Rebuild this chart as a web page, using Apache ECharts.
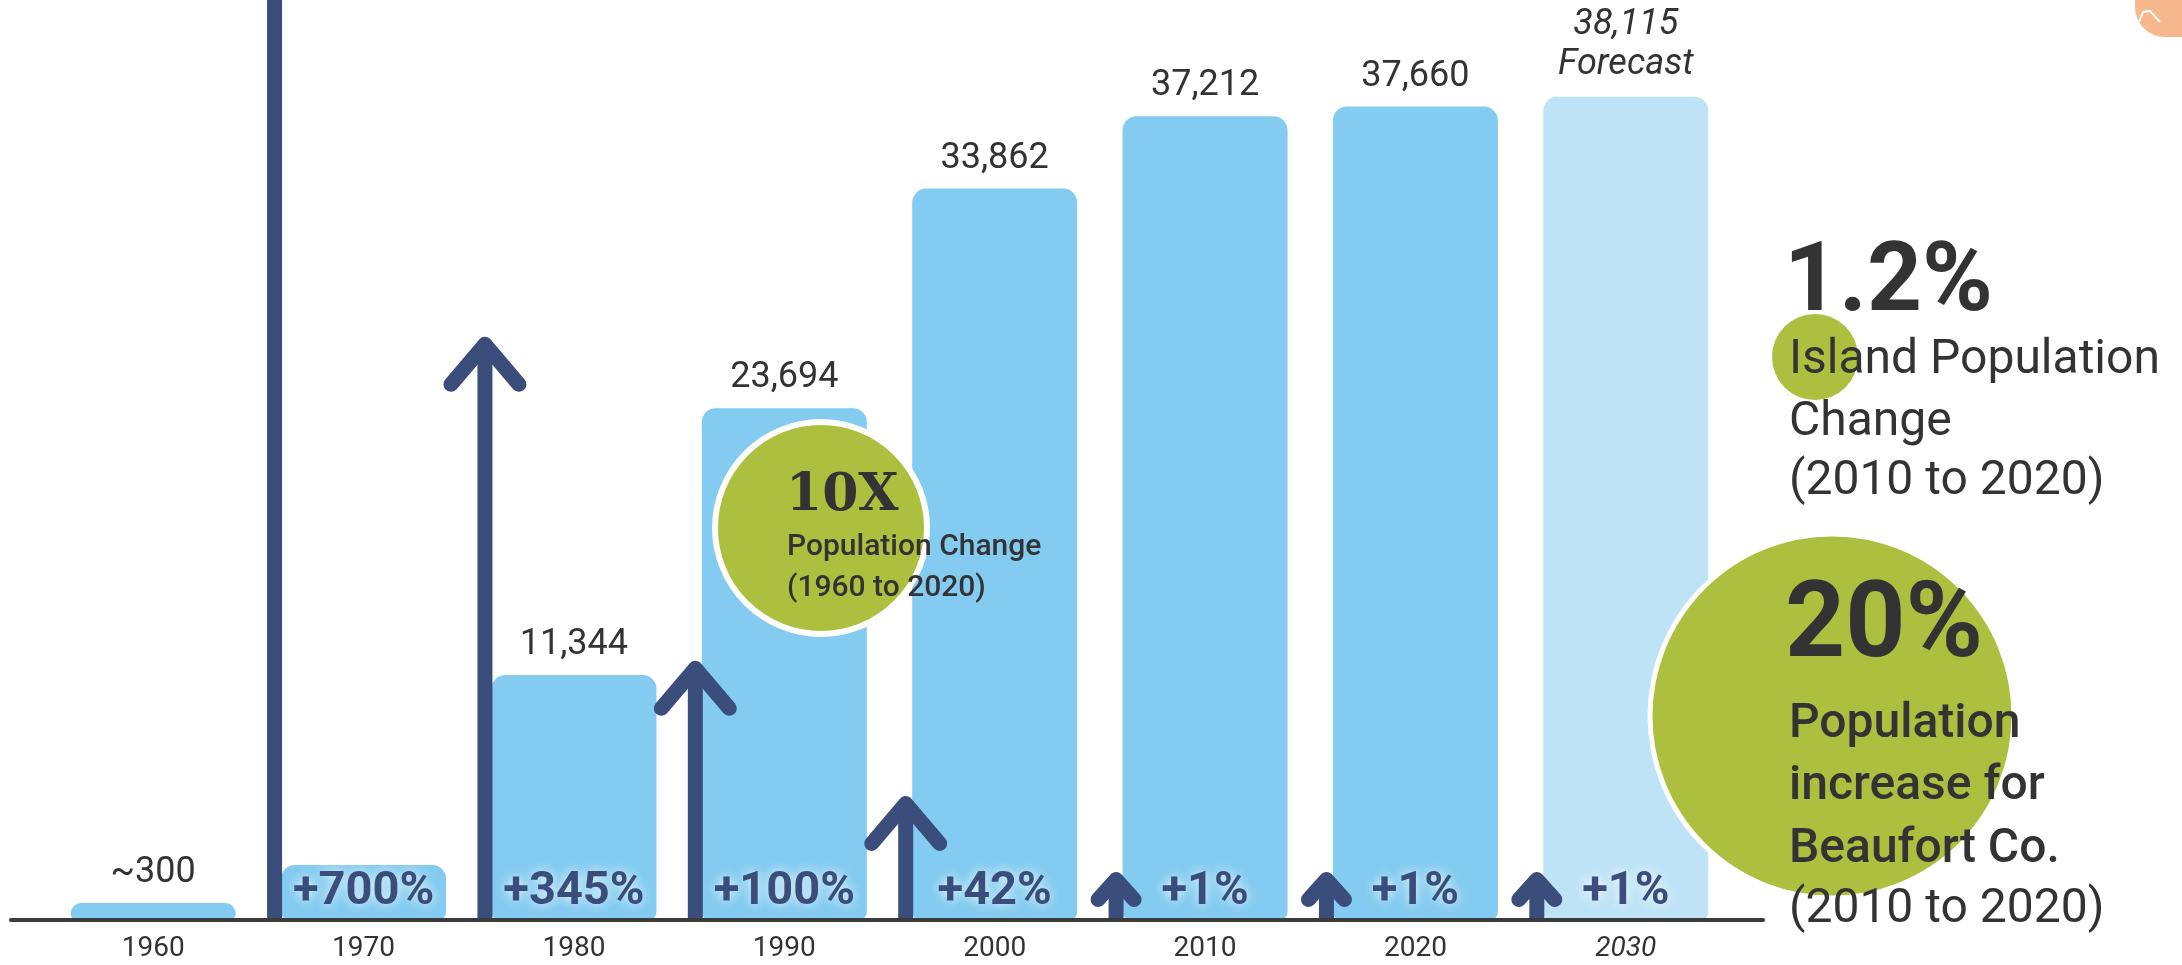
<!DOCTYPE html>
<html><head><meta charset="utf-8">
<script src="https://cdn.jsdelivr.net/npm/echarts@6/dist/echarts.min.js"></script>
<style>html,body{margin:0;padding:0;background:#fff}#c{width:2182px;height:965px}</style>
</head><body><div id="c"></div><script>
// ---- data ----
const years = ['1960', '1970', '1980', '1990', '2000', '2010', '2020', '2030'];
const population = [300, 2549, 11344, 23694, 33862, 37212, 37660, 38115];
const valueLabels = ['~300', '', '11,344', '23,694', '33,862', '37,212', '37,660', '38,115'];
const isForecast = [false, false, false, false, false, false, false, true];
const changeLabels = ['', '+700%', '+345%', '+100%', '+42%', '+1%', '+1%', '+1%'];
// arrow tip levels, in population units (null = no arrow)
const arrowTips = [null, 48000, 27000, 12000, 5740, 2220, 2220, 2220];

// ---- styles ----
const BLUE = '#83CBF0', LIGHT = '#BEE3F6', NAVY = '#3A4D7B', GREEN = '#ADBF3F', TXT = '#333333';
const FONT = 'Roboto';

const chart = echarts.init(document.getElementById('c'));

const barData = population.map((v, i) => ({ value: v, itemStyle: { color: isForecast[i] ? LIGHT : BLUE } }));
const arrowData = arrowTips.map((t, i) => t == null ? null : [i, t]).filter(d => d);

function txt(text, x, y, size, weight, family) {
  return {
    type: 'text', x: x, y: y, z: 100, silent: true,
    style: { text: text, fontFamily: family || FONT, fontSize: size, fontWeight: weight, fill: TXT, align: 'left', verticalAlign: 'middle' }
  };
}

chart.setOption({
  backgroundColor: '#ffffff',
  animation: false,
  grid: [
    { left: 48, right: 451, top: 56, bottom: 45 },
    { left: 11, right: 419, top: 56, bottom: 45 }
  ],
  xAxis: [
    {
      type: 'category', gridIndex: 0, data: years,
      axisLine: { show: false }, axisTick: { show: false },
      axisLabel: {
        margin: 15, fontSize: 28, fontFamily: FONT, color: TXT,
        formatter: (v, idx) => isForecast[idx] ? '{i|' + v + '}' : v,
        rich: { i: { fontStyle: 'italic', fontSize: 28, fontFamily: FONT, color: TXT } }
      }
    },
    {
      type: 'value', gridIndex: 1, min: 0, max: 1, z: 10,
      axisLine: { show: true, onZero: false, lineStyle: { color: '#3a3a3a', width: 4 } },
      axisTick: { show: false }, axisLabel: { show: false }, splitLine: { show: false }
    }
  ],
  yAxis: [
    { type: 'value', gridIndex: 0, min: 0, max: 40000, show: false },
    { type: 'value', gridIndex: 1, min: 0, max: 1, show: false }
  ],
  series: [
    {
      type: 'bar', name: 'Population', xAxisIndex: 0, yAxisIndex: 0,
      data: barData, barWidth: 165, barMinHeight: 17, z: 2,
      itemStyle: { borderRadius: [14, 14, 8, 8] },
      label: {
        show: true, position: 'top', distance: 12,
        fontFamily: FONT, fontSize: 36, color: TXT,
        formatter: p => isForecast[p.dataIndex]
          ? '{f|' + valueLabels[p.dataIndex] + '}\n{f|Forecast}'
          : valueLabels[p.dataIndex],
        rich: { f: { fontStyle: 'italic', fontFamily: FONT, fontSize: 36, lineHeight: 40, color: TXT } }
      }
    },
    {
      type: 'custom', name: 'Change arrows', xAxisIndex: 0, yAxisIndex: 0, z: 5,
      encode: { x: 0, y: 1 }, data: arrowData, silent: true,
      renderItem: function (params, api) {
        const i = api.value(0), t = api.value(1);
        const base = api.coord([i, 0]);
        const tip = api.coord([i, t]);
        const band = api.size([1, 0])[0];
        const x = base[0] - band * 0.423;
        const len = base[1] - tip[1];
        const small = len < 80;
        const dx = small ? 18 : 34, dy = small ? 20 : 40, w = 15;
        const ty = tip[1] + w / 2;
        return {
          type: 'group', children: [
            { type: 'line', shape: { x1: x, y1: base[1], x2: x, y2: ty }, style: { stroke: NAVY, lineWidth: w } },
            { type: 'polyline', shape: { points: [[x - dx, ty + dy], [x, ty], [x + dx, ty + dy]] },
              style: { stroke: NAVY, lineWidth: w, lineCap: 'round', lineJoin: 'round', fill: null } }
          ]
        };
      }
    },
    {
      type: 'bar', name: 'Change', xAxisIndex: 0, yAxisIndex: 0,
      data: population, barWidth: 165, barMinHeight: 17, barGap: '-100%', z: 6, silent: true,
      itemStyle: { color: 'rgba(0,0,0,0)' },
      label: {
        show: true, position: 'insideBottom', distance: 4,
        fontFamily: FONT, fontSize: 47, fontWeight: 'bold', color: NAVY,
        textShadowColor: 'rgba(255,255,255,0.9)', textShadowBlur: 12,
        formatter: p => changeLabels[p.dataIndex]
      }
    }
  ],
  graphic: [
    // decorative peach shape top-right
    { type: 'rect', z: 100, silent: true, shape: { x: 2135, y: -45, width: 80, height: 82, r: 30 }, style: { fill: '#F6B88C' } },
    { type: 'polyline', z: 101, silent: true, shape: { points: [[2139, 22], [2143, 12], [2150, 11], [2160, 22]] }, style: { stroke: '#fff', lineWidth: 2, fill: null } },
    // 10X bubble
    { type: 'circle', z: 100, silent: true, shape: { cx: 821, cy: 528, r: 106 }, style: { fill: GREEN, stroke: '#ffffff', lineWidth: 6 } },
    txt('10X', 786, 496, 52, 'bold', 'DejaVu Serif'),
    txt('Population Change', 787, 547, 30, 500),
    txt('(1960 to 2020)', 787, 588, 30, 500),
    // 1.2% block
    { type: 'circle', z: 99, silent: true, shape: { cx: 1815, cy: 357, r: 43 }, style: { fill: GREEN } },
    txt('1.2%', 1784, 286, 96, 'bold'),
    txt('Island Population', 1789, 361, 48, 400),
    txt('Change', 1789, 423, 48, 400),
    txt('(2010 to 2020)', 1789, 482, 48, 400),
    // 20% block
    { type: 'circle', z: 99, silent: true, shape: { cx: 1832, cy: 716, r: 182 }, style: { fill: GREEN, stroke: '#ffffff', lineWidth: 5 } },
    txt('20%', 1785, 630, 105, 'bold'),
    txt('Population', 1789, 725, 48, 500),
    txt('increase for', 1789, 787, 48, 500),
    txt('Beaufort Co.', 1789, 850, 48, 500),
    txt('(2010 to 2020)', 1789, 910, 48, 400)
  ]
});
</script></body></html>
